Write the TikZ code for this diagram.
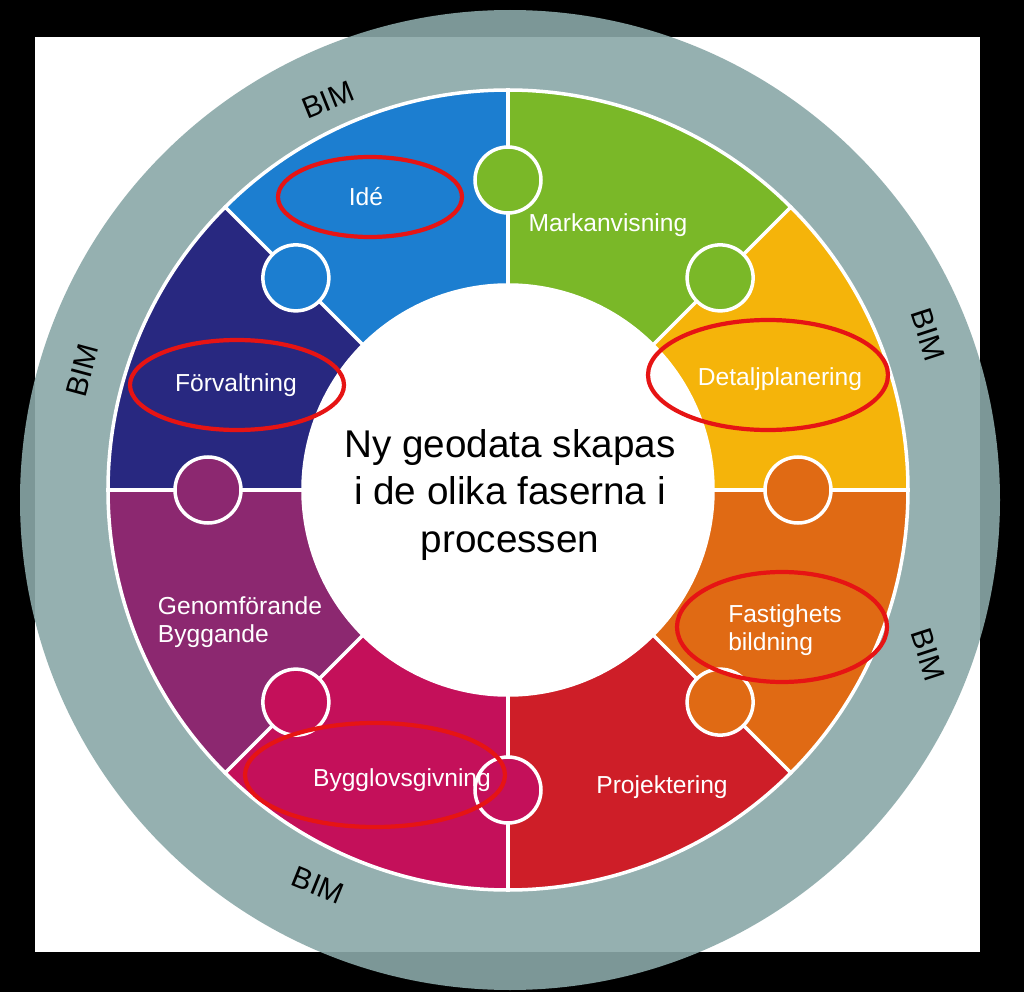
\documentclass[tikz,border=0pt]{standalone}
\usepackage{fontspec}
\setmainfont{Liberation Sans}
\usepackage{xcolor}
\definecolor{RingGray}{RGB}{138, 168, 168}
\definecolor{IdeBlue}{RGB}{28, 126, 208}
\definecolor{MarkGreen}{RGB}{122, 184, 40}
\definecolor{PlanYellow}{RGB}{245, 180, 10}
\definecolor{FastOrange}{RGB}{224, 106, 20}
\definecolor{ProjRed}{RGB}{206, 30, 40}
\definecolor{ByggMagenta}{RGB}{196, 16, 90}
\definecolor{GenPurple}{RGB}{140, 40, 112}
\definecolor{ForvNavy}{RGB}{40, 40, 128}
\definecolor{MarkRed}{RGB}{230, 20, 20}
\tikzset{
  phase/.style={text=white, font=\fontsize{7}{8}\selectfont, align=left},
  bim/.style={font=\fontsize{8.5}{9}\selectfont},
  redring/.style={draw=MarkRed, line width=1.2pt, ellipse}
}
\usetikzlibrary{shapes.geometric, calc}
\begin{document}
\begin{tikzpicture}
  % Background
  \fill[black] (0,0) rectangle (10.24,9.92);
  \useasboundingbox (0,0) rectangle (10.24,9.92);
  \fill[white] (0.35,0.40) rectangle (9.80,9.55);
  \fill[RingGray, fill opacity=0.9] (5.10,4.92) circle (4.90);

  % Puzzle ring
  \coordinate (c) at (5.08,5.02);
  \foreach \a/\col in {90/IdeBlue, 45/MarkGreen, 0/PlanYellow, -45/FastOrange,
      -90/ProjRed, -135/ByggMagenta, 180/GenPurple, 135/ForvNavy} {
    \fill[\col, draw=white, line width=1pt] ($(c)+(\a:4.0)$) arc (\a:\a+45:4.0)
      -- ($(c)+(\a+45:2.05)$) arc (\a+45:\a:2.05) -- cycle;
  }
  % Tabs
  \foreach \a/\r/\col in {90/3.1/MarkGreen, 45/3.0/MarkGreen, 0/2.9/FastOrange,
      -45/3.0/FastOrange, -90/3.0/ByggMagenta, -135/3.0/ByggMagenta,
      180/3.0/GenPurple, 135/3.0/IdeBlue} {
    \fill[\col, draw=white, line width=1pt] ($(c)+(\a:\r)$) circle (0.33);
  }
  \fill[white] (c) circle (2.05);

  % Centre text
  \node[align=center, font=\fontsize{11}{13.5}\selectfont] (centre) at (5.10,4.97)
    {Ny geodata skapas\\i de olika faserna i\\processen};

  % Phases
  \node[phase] (ide) at (3.66,7.95) {Idé};
  \node[phase] (markanv) at (6.08,7.67) {Markanvisning};
  \node[phase] (detalj) at (7.80,6.13) {Detaljplanering};
  \node[phase] (fastighet) at (7.85,3.62) {Fastighets\\bildning};
  \node[phase] (projekt) at (6.62,2.05) {Projektering};
  \node[phase] (bygglov) at (4.02,2.12) {Bygglovsgivning};
  \node[phase] (genomf) at (2.40,3.70) {Genomförande\\Byggande};
  \node[phase] (forv) at (2.36,6.07) {Förvaltning};

  % Red markings
  \node[redring, minimum width=1.84cm, minimum height=0.80cm] (m1) at (3.70,7.95) {};
  \node[redring, minimum width=2.14cm, minimum height=0.90cm] (m2) at (2.37,6.07) {};
  \node[redring, minimum width=2.40cm, minimum height=1.10cm] (m3) at (7.68,6.17) {};
  \node[redring, minimum width=2.10cm, minimum height=1.10cm] (m4) at (7.82,3.65) {};
  \node[redring, minimum width=2.60cm, minimum height=1.04cm] (m5) at (3.75,2.17) {};

  % BIM labels
  \node[bim, rotate=22] (bim1) at (3.28,8.92) {BIM};
  \node[bim, rotate=75] (bim2) at (0.82,6.22) {BIM};
  \node[bim, rotate=-72] (bim3) at (9.28,6.57) {BIM};
  \node[bim, rotate=-72] (bim4) at (9.28,3.37) {BIM};
  \node[bim, rotate=-22] (bim5) at (3.18,1.07) {BIM};
\end{tikzpicture}
\end{document}
